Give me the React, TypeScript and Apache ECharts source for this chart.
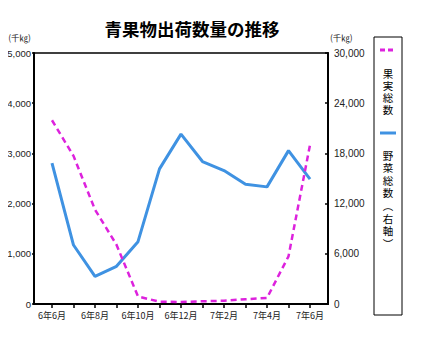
import React, { useEffect, useRef } from "react";
import * as echarts from "echarts";

const categories = [
  "6年6月", "6年7月", "6年8月", "6年9月", "6年10月", "6年11月", "6年12月",
  "7年1月", "7年2月", "7年3月", "7年4月", "7年5月", "7年6月",
];
const fruitTotal = [3660, 2950, 1880, 1180, 150, 45, 40, 55, 65, 95, 120, 950, 3170];
const vegTotal = [16850, 7050, 3300, 4500, 7450, 16150, 20300, 17030, 15950, 14300, 14000, 18330, 14930];
const leftTicks = [0, 1000, 2000, 3000, 4000, 5000];
const rightTicks = [0, 6000, 12000, 18000, 24000, 30000];
const labelIdx = [0, 2, 4, 6, 8, 10, 12];
const fruitLegend = ["果", "実", "総", "数"];
const vegLegend = ["野", "菜", "総", "数", "︵", "右", "軸", "︶"];

const FRUIT = "#DD22DD";
const VEG = "#3F92E2";
const NUM_FONT = "Arial";
const JP_FONT = "Noto Sans CJK JP";

export default function App() {
  const ref = useRef<HTMLDivElement>(null);
  useEffect(() => {
    if (!ref.current) return;
    const chart = echarts.init(ref.current, undefined, { renderer: "svg" });
    const fmt = (v: number) => v.toLocaleString("en-US");
    const legendChars = (chars: string[], top: number, step: number) =>
      chars.map((c, i) => ({
        type: "text", x: 388, y: top + i * step,
        style: { text: c, fontFamily: JP_FONT, fontSize: 10.5, align: "center", verticalAlign: "middle", fill: "#000" },
      }));
    chart.setOption({
      animation: false,
      backgroundColor: "#fff",
      title: {
        text: "青果物出荷数量の推移",
        left: 187,
        top: 15,
        textAlign: "center",
        textStyle: { fontFamily: JP_FONT, fontSize: 17.5, fontWeight: "bold", color: "#000" },
      },
      legend: { show: false },
      grid: {
        left: 34, right: 109, top: 53, bottom: 56,
        containLabel: false,
        outerBoundsMode: "none",
        show: true, borderColor: "#000", borderWidth: 1.5, backgroundColor: "transparent",
      },
      xAxis: {
        type: "value",
        min: -0.837,
        max: 12.837,
        axisLine: { show: true, onZero: false, lineStyle: { color: "#000", width: 2 } },
        axisTick: {
          show: true, length: 4, lineStyle: { color: "#000", width: 1.5 },
          customValues: categories.map((_, i) => i),
        },
        axisLabel: {
          customValues: labelIdx,
          formatter: (v: number) => categories[Math.round(v)] ?? "",
          fontFamily: JP_FONT, fontSize: 9, color: "#222", margin: 7,
        },
        splitLine: { show: false },
      },
      yAxis: [
        {
          type: "value", min: 0, max: 5000, interval: 1000,
          name: "(千㎏)", nameLocation: "end", nameGap: 16,
          nameTextStyle: { fontFamily: JP_FONT, fontSize: 8.5, color: "#222", align: "right", verticalAlign: "middle", padding: [0, 3, 0, 0] },
          axisLine: { show: true, onZero: false, lineStyle: { color: "#000", width: 2 } },
          axisTick: { show: true, length: 2, lineStyle: { color: "#000", width: 1.5 } },
          axisLabel: { formatter: fmt, fontFamily: NUM_FONT, fontSize: 9.5, color: "#222", margin: 3, align: "right", customValues: leftTicks },
          splitLine: { show: false },
        },
        {
          type: "value", min: 0, max: 30000, interval: 6000, position: "right",
          name: "(千㎏)", nameLocation: "end", nameGap: 16,
          nameTextStyle: { fontFamily: JP_FONT, fontSize: 8.5, color: "#222", align: "left", verticalAlign: "middle", padding: [0, 0, 0, 2] },
          axisLine: { show: true, onZero: false, lineStyle: { color: "#000", width: 2 } },
          axisTick: { show: true, inside: true, length: 3, lineStyle: { color: "#000", width: 1.5 } },
          axisLabel: { formatter: fmt, fontFamily: NUM_FONT, fontSize: 10, color: "#222", margin: 6, customValues: rightTicks },
          splitLine: { show: false },
        },
      ],
      series: [
        {
          name: "果実総数", type: "line", yAxisIndex: 0,
          data: fruitTotal.map((v, i) => [i, v]),
          symbol: "none",
          lineStyle: { color: FRUIT, width: 2.5, type: [6, 4] },
          z: 3,
        },
        {
          name: "野菜総数（右軸）", type: "line", yAxisIndex: 1,
          data: vegTotal.map((v, i) => [i, v]),
          symbol: "none",
          lineStyle: { color: VEG, width: 3 },
          z: 2,
        },
      ],
      graphic: [
        { type: "rect", shape: { x: 374, y: 37, width: 28, height: 278 }, style: { fill: "#fff", stroke: "#000", lineWidth: 1 } },
        { type: "line", shape: { x1: 380, y1: 50, x2: 396, y2: 50 }, style: { stroke: FRUIT, lineWidth: 3, lineDash: [5, 3] } },
        ...legendChars(fruitLegend, 73, 12),
        { type: "line", shape: { x1: 380, y1: 133, x2: 396, y2: 133 }, style: { stroke: VEG, lineWidth: 3 } },
        ...legendChars(vegLegend, 155, 12.6),
      ],
    });
    return () => chart.dispose();
  }, []);
  return <div ref={ref} style={{ width: 437, height: 360, margin: -8 }} />;
}
